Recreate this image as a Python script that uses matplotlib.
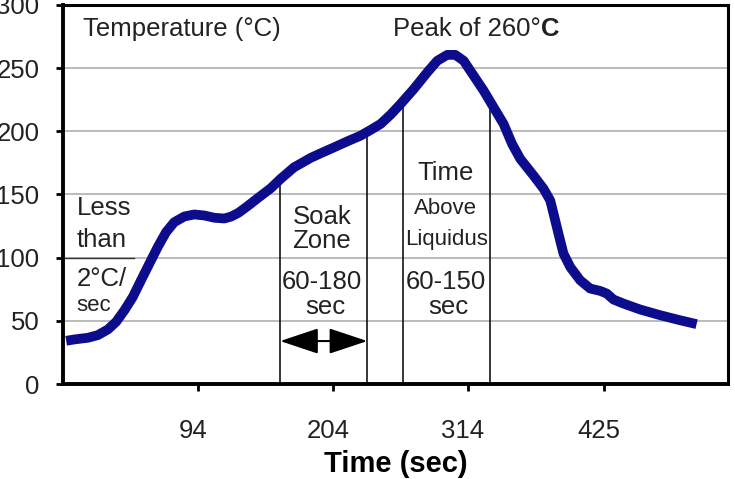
import matplotlib.pyplot as plt
import matplotlib.transforms as mtransforms

plt.rcParams['font.family'] = ['Liberation Sans', 'DejaVu Sans']

# reflow profile
time_s = [-13.4, -6.6, 4.3, 12.4, 20.6, 27.3, 34.1, 40.9, 47.6, 54.4, 61.2, 68.0, 74.7,
          82.9, 91.0, 99.1, 107.3, 115.4, 121.0, 127.0, 134.0, 142.6, 153.4, 161.5, 172.3,
          185.9, 194.0, 204.9, 215.8, 226.6, 234.7, 242.8, 251.0, 259.1, 269.9, 280.8,
          289.0, 297.1, 303.8, 310.6, 318.7, 326.9, 335.0, 343.1, 350.0, 356.7, 367.5,
          375.7, 381.1, 383.8, 387.8, 391.9, 397.4, 405.5, 413.6, 421.8, 427.2, 432.6,
          440.7, 454.3, 470.6, 486.8, 500.4]
temp_c = [34.2, 35.3, 36.6, 38.7, 43.2, 49.2, 58.4, 68.9, 82.1, 95.3, 108.4, 120.2, 128.1,
          132.6, 134.2, 133.4, 131.6, 131.0, 132.5, 135.5, 140.5, 147.0, 155.0, 162.5, 171.5,
          179.0, 182.6, 187.3, 192.1, 196.6, 201.1, 205.8, 213.2, 221.6, 233.5, 246.6,
          255.8, 260.5, 260.5, 255.8, 244.0, 232.1, 218.9, 205.8, 190.0, 178.2, 165.0,
          154.5, 145.3, 134.8, 119.0, 103.2, 92.6, 82.1, 75.6, 73.7, 71.6, 66.9,
          63.7, 59.0, 54.5, 50.5, 47.4]

x_ticks = [94, 204, 314, 425]
y_ticks = [0, 50, 100, 150, 200, 250, 300]

# zone boundary lines (x, top)
zone_x = [161, 232, 261, 332]
zone_top = [160, 200, 223, 219]

fig = plt.figure(figsize=(7.35, 4.79), dpi=100)
ax = fig.add_axes([0.0857, 0.1983, 0.9048, 0.7913])

ax.set_xlim(-16, 526)
ax.set_ylim(0, 300)

for y in y_ticks[1:-1]:
    ax.axhline(y, color='#a8a8a8', lw=1.1, zorder=1)
ax.plot([-16, 42], [100, 100], color='#333333', lw=1.0, zorder=1.5)

for x, top in zip(zone_x, zone_top):
    ax.plot([x, x], [0, top], color='black', lw=1.1, zorder=2)

ax.plot(time_s, temp_c, color='#0c0c8c', lw=7, solid_joinstyle='round',
        solid_capstyle='butt', zorder=3)

ax.annotate('', xy=(161, 34), xytext=(232, 34),
            arrowprops=dict(arrowstyle='<|-|>,head_length=1.2,head_width=0.4',
                            color='black', lw=1.5, mutation_scale=20,
                            shrinkA=0, shrinkB=0))

big = 18.5
small = 16
tc = '#222222'
ax.text(0.5, 281, 'Temperature (°C)', fontsize=big, color=tc, va='center', ha='left')
peak = ax.text(253, 281, 'Peak of 260°', fontsize=big, color=tc, va='center', ha='left')
ax.annotate('C', xy=(1, 0), xycoords=peak, fontsize=big, color=tc,
            fontweight='bold', va='bottom', ha='left')

ax.text(-5, 139, 'Less', fontsize=big, color=tc, va='center', ha='left')
ax.text(-5, 114, 'than', fontsize=big, color=tc, va='center', ha='left')
ax.text(-5, 83, '2°C/', fontsize=big, color=tc, va='center', ha='left')
ax.text(-5, 62, 'sec', fontsize=small, color=tc, va='center', ha='left')

ax.text(195, 132, 'Soak', fontsize=big, color=tc, va='center', ha='center')
ax.text(195, 113, 'Zone', fontsize=big, color=tc, va='center', ha='center')
ax.text(195, 81, '60-180', fontsize=big, color=tc, va='center', ha='center')
ax.text(198, 61, 'sec', fontsize=big, color=tc, va='center', ha='center')

ax.text(296, 167, 'Time', fontsize=big, color=tc, va='center', ha='center')
ax.text(296, 139, 'Above', fontsize=small, color=tc, va='center', ha='center')
ax.text(297, 114, 'Liquidus', fontsize=small, color=tc, va='center', ha='center')
ax.text(296, 81, '60-150', fontsize=big, color=tc, va='center', ha='center')
ax.text(298, 61, 'sec', fontsize=big, color=tc, va='center', ha='center')

ax.set_xticks(x_ticks)
ax.set_xticklabels([str(t) for t in x_ticks])
ax.set_yticks(y_ticks)
ax.tick_params(axis='x', direction='out', length=5, width=2, pad=20,
               labelsize=big, labelcolor=tc)
ax.tick_params(axis='y', direction='out', length=5, width=2, pad=12,
               labelsize=big, labelcolor=tc)
shift = mtransforms.ScaledTranslation(-5 / 100, 0, fig.dpi_scale_trans)
for lab in ax.get_xticklabels():
    lab.set_transform(lab.get_transform() + shift)
ax.set_xlabel('Time (sec)', fontsize=21, fontweight='bold', color='black', labelpad=5)

for side in ['left', 'bottom']:
    ax.spines[side].set_linewidth(2.8)
for side in ['top', 'right']:
    ax.spines[side].set_linewidth(2.2)

fig.savefig('out.png', dpi=100)
